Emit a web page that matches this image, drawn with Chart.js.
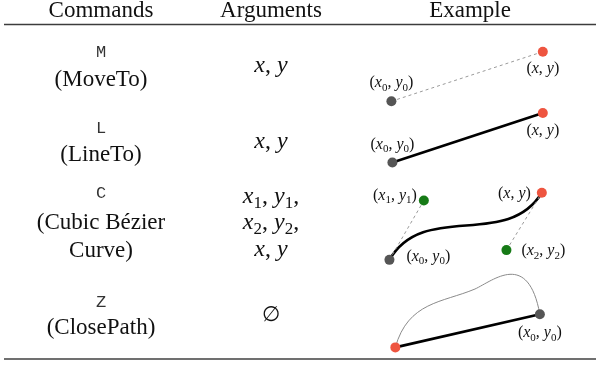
<!DOCTYPE html>
<html>
<head>
<meta charset="utf-8">
<script src="https://cdn.jsdelivr.net/npm/chart.js@4/dist/chart.umd.min.js"></script>
<style>
  html, body { margin: 0; padding: 0; background: #fff; }
  #wrap { width: 596px; height: 366px; position: relative; }
</style>
</head>
<body>
<div id="wrap"><canvas id="pathChart"></canvas></div>
<script>
// SVG path commands table - Chart.js scatter with a drawing plugin
// Plot coordinates are figure units (0..596 across, 0..366 down).

// Table text
const commands = ['M', 'L', 'C', 'Z'];
const commandNames = [['(MoveTo)'], ['(LineTo)'], ['(Cubic Bézier', 'Curve)'], ['(ClosePath)']];
const argumentLines = [['x, y'], ['x, y'], ['x_1, y_1,', 'x_2, y_2,', 'x, y'], ['∅']];
const headers = ['Commands', 'Arguments', 'Example'];

// Example points, one per row: M, L, C, Z
const startPoints = [
    { x: 393, y: 99 },
    { x: 394, y: 162 },
    { x: 391, y: 262 },
    { x: 544, y: 318 }
];
const endPoints = [
    { x: 547, y: 48 },
    { x: 547, y: 111 },
    { x: 546, y: 193 },
    { x: 397, y: 352 }
];
// Cubic Bézier control points (x1, y1) and (x2, y2)
const controlPoints = [
    { x: 426, y: 201 },
    { x: 510, y: 252 }
];
// The curved path that Z closes: start, then (c1, c2, end) per segment
const closeCurve = [
    { x: 544, y: 318 },
    { x: 532, y: 252 }, { x: 497, y: 283 }, { x: 478, y: 292 },
    { x: 445, y: 306 }, { x: 410, y: 305 }, { x: 397, y: 352 }
];

const SERIF = '"Liberation Serif", "Times New Roman", serif';

// draw a small TeX-like string: letters italic, _d subscript, rest upright
function mathTokens(str) {
    const out = [];
    for (let i = 0; i < str.length; i++) {
        const ch = str[i];
        if (ch === '_') { out.push([str[i + 1], 's']); i++; }
        else if (/[a-z]/.test(ch)) out.push([ch, 'i']);
        else out.push([ch, 'r']);
    }
    return out;
}
function tokFont(kind, size) {
    if (kind === 'i') return 'italic ' + size + 'px ' + SERIF;
    if (kind === 's') return Math.round(size * 0.7) + 'px ' + SERIF;
    return size + 'px ' + SERIF;
}
function drawMath(ctx, str, x, y, size, align) {
    const toks = mathTokens(str);
    let w = 0;
    const widths = toks.map(t => {
        ctx.font = tokFont(t[1], size);
        const tw = ctx.measureText(t[0]).width;
        w += tw;
        return tw;
    });
    let cx = align === 'center' ? x - w / 2 : align === 'right' ? x - w : x;
    ctx.textAlign = 'left';
    toks.forEach((t, i) => {
        ctx.font = tokFont(t[1], size);
        ctx.fillText(t[0], cx, t[1] === 's' ? y + size * 0.22 : y);
        cx += widths[i];
    });
}

const tablePlugin = {
    id: 'pathTable',
    beforeDatasetsDraw(chart) {
        const { ctx, scales: { x, y } } = chart;
        const P = p => [x.getPixelForValue(p.x), y.getPixelForValue(p.y)];

        // thin curve that the Z row closes
        ctx.save();
        ctx.strokeStyle = '#8a8a8a';
        ctx.lineWidth = 1;
        ctx.beginPath();
        ctx.moveTo(...P(closeCurve[0]));
        for (let i = 1; i + 2 < closeCurve.length; i += 3) {
            ctx.bezierCurveTo(...P(closeCurve[i]), ...P(closeCurve[i + 1]), ...P(closeCurve[i + 2]));
        }
        ctx.stroke();

        // the cubic Bézier of the C row
        ctx.strokeStyle = '#000';
        ctx.lineWidth = 2.6;
        ctx.beginPath();
        ctx.moveTo(...P(startPoints[2]));
        ctx.bezierCurveTo(...P(controlPoints[0]), ...P(controlPoints[1]), ...P(endPoints[2]));
        ctx.stroke();
        ctx.restore();
    },
    afterDatasetsDraw(chart) {
        const { ctx, scales: { x, y } } = chart;
        const P = p => [x.getPixelForValue(p.x), y.getPixelForValue(p.y)];
        ctx.save();

        // rules
        ctx.strokeStyle = '#3c3c3c';
        ctx.lineWidth = 1.6;
        ctx.beginPath(); ctx.moveTo(4, 24.5); ctx.lineTo(596, 24.5); ctx.stroke();
        ctx.strokeStyle = '#707070';
        ctx.lineWidth = 2.2;
        ctx.beginPath(); ctx.moveTo(4, 359); ctx.lineTo(596, 359); ctx.stroke();

        ctx.fillStyle = '#111';
        ctx.textBaseline = 'alphabetic';
        ctx.textAlign = 'center';

        // header
        const colX = [101, 271, 470];
        ctx.font = '23px ' + SERIF;
        headers.forEach((h, i) => ctx.fillText(h, colX[i], 17));

        // commands column
        const cmdY = [57, 133, 198, 307];
        const nameY = [[86], [161], [229, 257], [334]];
        commands.forEach((c, i) => {
            ctx.font = '17px "Liberation Mono", monospace';
            ctx.fillStyle = '#333';
            ctx.textAlign = 'center';
            ctx.fillText(c, colX[0], cmdY[i]);
            ctx.font = '23px ' + SERIF;
            ctx.fillStyle = '#111';
            commandNames[i].forEach((n, j) => ctx.fillText(n, colX[0], nameY[i][j]));
        });

        // arguments column
        const argY = [[72], [148], [203, 229, 256], [321]];
        argumentLines.forEach((lines, i) => {
            lines.forEach((s, j) => {
                if (s === '∅') {
                    ctx.font = '21px "DejaVu Serif", serif';
                    ctx.textAlign = 'center';
                    ctx.fillText(s, colX[1], argY[i][j]);
                } else {
                    drawMath(ctx, s, colX[1], argY[i][j], 24, 'center');
                }
            });
        });

        // point labels in the example column
        const L = 16;
        let p;
        p = P(startPoints[0]); drawMath(ctx, '(x_0, y_0)', p[0], p[1] - 14, L, 'center');
        p = P(endPoints[0]);   drawMath(ctx, '(x, y)', p[0], p[1] + 21, L, 'center');
        p = P(startPoints[1]); drawMath(ctx, '(x_0, y_0)', p[0], p[1] - 14, L, 'center');
        p = P(endPoints[1]);   drawMath(ctx, '(x, y)', p[0], p[1] + 22, L, 'center');
        p = P(controlPoints[0]); drawMath(ctx, '(x_1, y_1)', p[0] - 7, p[1] - 1, L, 'right');
        p = P(endPoints[2]);   drawMath(ctx, '(x, y)', p[0] - 11, p[1] + 5, L, 'right');
        p = P(startPoints[2]); drawMath(ctx, '(x_0, y_0)', p[0] + 17, p[1] + 1, L, 'left');
        p = P(controlPoints[1]); drawMath(ctx, '(x_2, y_2)', p[0] + 15, p[1] + 5, L, 'left');
        p = P(startPoints[3]); drawMath(ctx, '(x_0, y_0)', p[0], p[1] + 23, L, 'center');

        ctx.restore();
    }
};

const seg = (a, b, color, width, dash) => ({
    data: [a, b],
    showLine: true,
    borderColor: color,
    borderWidth: width,
    borderDash: dash || [],
    pointRadius: 0,
    order: 2
});
const dots = (pts, color) => ({
    data: pts,
    backgroundColor: color,
    borderColor: color,
    pointRadius: 5,
    pointBorderWidth: 0,
    order: 0
});

new Chart(document.getElementById('pathChart'), {
    type: 'scatter',
    data: {
        datasets: [
            dots(startPoints, '#555555'),
            dots(endPoints, '#ee5540'),
            dots(controlPoints, '#167a16'),
            seg(startPoints[0], endPoints[0], '#9a9a9a', 1, [3, 3]),
            seg(startPoints[1], endPoints[1], '#000000', 2.6),
            seg(startPoints[2], controlPoints[0], '#9a9a9a', 1, [3, 3]),
            seg(controlPoints[1], endPoints[2], '#9a9a9a', 1, [3, 3]),
            seg(endPoints[3], startPoints[3], '#000000', 2.6)
        ]
    },
    options: {
        responsive: true,
        maintainAspectRatio: false,
        animation: false,
        layout: { padding: 0 },
        plugins: { legend: { display: false }, tooltip: { enabled: false } },
        scales: {
            x: { type: 'linear', min: 0, max: 596, display: false },
            y: { type: 'linear', min: 0, max: 366, reverse: true, display: false }
        }
    },
    plugins: [tablePlugin]
});
</script>
</body>
</html>
